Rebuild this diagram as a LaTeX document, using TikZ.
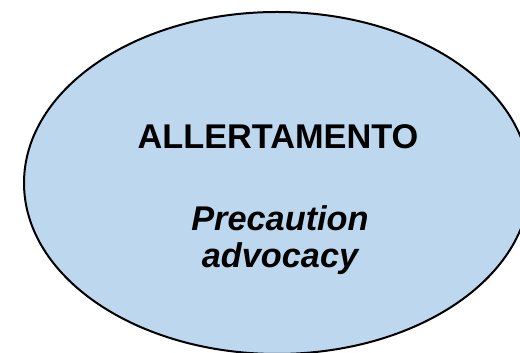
\documentclass[tikz,border=0pt]{standalone}
\usepackage{fontspec}
\setmainfont{Liberation Sans}
\begin{document}
\begin{tikzpicture}[x=1pt,y=1pt,
  bubble/.style={draw=black, line width=2pt, fill=bubblefill},
  title/.style={anchor=base, font=\fontsize{34.3}{40}\selectfont\bfseries, inner sep=0pt},
  subtitle/.style={anchor=base, font=\fontsize{34.3}{40}\selectfont\bfseries\itshape, inner sep=0pt}]
\definecolor{bubblefill}{HTML}{BDD7EE}
\useasboundingbox (0,0) rectangle (520,353);
\clip (0,0) rectangle (520,353);
\path[bubble] (277,170) ellipse [x radius=253, y radius=171];
\node[title] (t1) at (278,204) {ALLERTAMENTO};
\node[subtitle] (t2) at (280,122) {Precaution};
\node[subtitle] (t3) at (280,85) {advocacy};
\end{tikzpicture}
\end{document}
